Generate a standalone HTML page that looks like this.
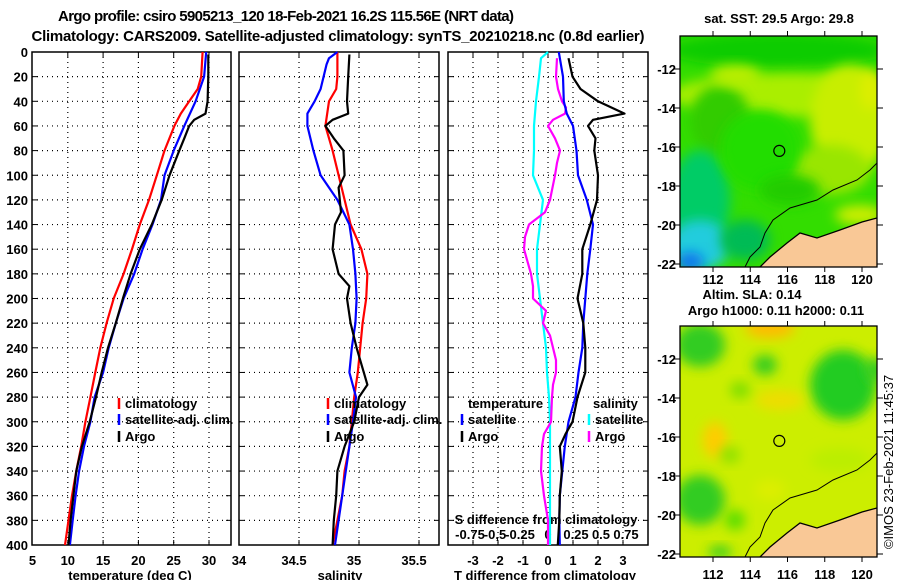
<!DOCTYPE html>
<html><head><meta charset="utf-8"><style>
html,body{margin:0;padding:0;background:#fff;}
svg{display:block;font-family:"Liberation Sans",sans-serif;font-weight:bold;}
</style></head><body>
<svg id="fig" width="900" height="580" viewBox="0 0 900 580" xmlns="http://www.w3.org/2000/svg">
<defs>
<filter id="blur6" x="-50%" y="-50%" width="200%" height="200%"><feGaussianBlur stdDeviation="6"/></filter>
<clipPath id="mapclipTop"><rect x="680" y="36" width="197" height="231"/></clipPath>
<clipPath id="mapclipBot"><rect x="680" y="326" width="197" height="231"/></clipPath>
</defs>
<text x="286" y="21" font-size="15" text-anchor="middle" textLength="456">Argo profile: csiro 5905213_120 18-Feb-2021 16.2S 115.56E (NRT data)</text>
<text x="338" y="41" font-size="15" text-anchor="middle" textLength="613">Climatology: CARS2009. Satellite-adjusted climatology: synTS_20210218.nc (0.8d earlier)</text>
<g id="panels"></g>
<g id="maps"></g>
<text transform="translate(893,462) rotate(-90)" font-size="13" font-weight="normal" text-anchor="middle">©IMOS 23-Feb-2021 11:45:37</text>
</svg>
<script>
// ---- data ----
const depthTicks=[0,20,40,60,80,100,120,140,160,180,200,220,240,260,280,300,320,340,360,380,400];
const tempTicks=[5,10,15,20,25,30];
const salTicks=[34,34.5,35,35.5];
const salTickLabels=["34","34.5","35","35.5"];
const tdiffTicks=[-3,-2,-1,0,1,2,3];
const sdiffTickLabels=["-0.75","-0,5","-0.25","0","0.25","0.5","0.75"];
const sdiffTicks=[-0.75,-0.5,-0.25,0,0.25,0.5,0.75];

const tClimDepth=[0,20,30,40,50,60,80,100,120,140,160,180,200,220,240,260,280,300,320,340,360,380,400];
const tClimVal=[29.1,28.9,28.4,27.2,26.0,25.1,23.7,22.6,21.5,20.2,19.1,17.9,16.5,15.5,14.6,13.9,13.2,12.5,11.9,11.2,10.6,10.1,9.6];
const tSatDepth=[0,20,40,60,80,100,120,140,160,180,200,220,240,260,280,300,320,340,360,380,400];
const tSatVal=[29.6,29.3,28.1,26.5,25.0,23.7,23.2,22.0,20.6,19.4,17.9,16.8,15.8,15.0,13.8,13.2,12.3,11.6,11.1,10.7,10.3];
const tArgoDepth=[2,20,40,50,55,60,70,80,100,120,140,160,180,200,220,240,260,280,300,320,340,360,380,400];
const tArgoVal=[29.9,29.9,29.8,29.5,27.9,27.2,26.5,25.8,24.4,23.3,21.9,20.2,18.9,17.8,16.8,15.7,14.8,14.0,13.1,12.0,11.2,10.8,10.4,10.1];

const sClimDepth=[0,20,30,40,60,80,100,120,140,160,180,200,220,240,260,280,300,320,340,360,380,400];
const sClimVal=[34.82,34.82,34.81,34.75,34.72,34.78,34.83,34.88,34.93,35.02,35.07,35.06,35.03,35.01,34.99,34.96,34.94,34.92,34.88,34.86,34.82,34.78];
const sSatDepth=[0,5,10,30,40,50,60,80,100,120,140,160,180,200,220,240,260,280,300,320,340,360,380,400];
const sSatVal=[34.82,34.75,34.73,34.68,34.63,34.57,34.57,34.62,34.68,34.82,34.92,34.95,34.97,34.98,34.97,34.94,34.92,34.975,34.95,34.92,34.89,34.86,34.83,34.80];
const sArgoDepth=[2,20,40,50,55,60,70,80,100,110,120,130,140,160,180,190,200,220,240,260,270,280,300,320,340,360,380,400];
const sArgoVal=[34.92,34.91,34.90,34.91,34.78,34.72,34.79,34.87,34.88,34.83,34.84,34.85,34.80,34.78,34.83,34.92,34.90,34.93,34.98,35.04,35.07,35.00,34.96,34.88,34.82,34.81,34.79,34.78];

const dtArgoDepth=[5,20,30,40,50,55,60,70,80,100,120,140,160,180,200,220,240,260,280,300,310,320,340,360,380,400];
const dtArgoVal=[0.82,0.98,1.3,2.0,3.06,1.8,1.6,1.9,1.85,2.0,1.96,1.69,1.37,1.37,1.18,1.41,1.49,1.49,1.18,0.98,0.7,0.47,0.55,0.47,0.45,0.39];
const dtSatDepth=[0,20,40,50,60,80,100,120,140,160,180,200,220,240,260,280,300,320,340,360,380,400];
const dtSatVal=[0.43,0.6,0.63,0.75,1.0,1.14,1.2,1.55,1.8,1.69,1.57,1.49,1.41,1.37,1.22,1.1,0.82,0.67,0.57,0.47,0.45,0.47];
const dsSatDepth=[0,5,20,40,60,80,100,120,140,160,180,200,220,240,260,280,300,320,340,360,380,400];
const dsSatVal=[0,-0.07,-0.09,-0.12,-0.14,-0.14,-0.15,-0.05,-0.08,-0.11,-0.11,-0.08,-0.05,-0.02,-0.01,0.01,0.02,0.02,0.02,0.02,0.02,0.02];
const dsArgoDepth=[5,20,30,40,45,50,55,60,70,80,90,100,120,130,140,150,160,180,190,200,210,220,230,240,250,260,270,280,300,310,320,340,360,380,400];
const dsArgoVal=[0.09,0.08,0.10,0.14,0.18,0.17,0.05,0.0,0.07,0.12,0.09,0.07,0.02,-0.03,-0.19,-0.23,-0.24,-0.17,-0.15,-0.15,-0.02,-0.05,0.02,0.05,0.08,0.08,0.05,0.04,0.03,-0.04,-0.06,-0.07,-0.04,0.0,0.0];

// ---- scales ----
const yD=d=>52+d*1.2325;
const xT=t=>32.5+(t-5)*7.06;
const xS=s=>239+(s-34)*120;
const xDT=v=>548+v*25;
const xDS=v=>548+v*100;

const NS="http://www.w3.org/2000/svg";
function mk(tag,attrs,parent){const e=document.createElementNS(NS,tag);for(const k in attrs)e.setAttribute(k,attrs[k]);parent.appendChild(e);return e;}
const P=document.getElementById('panels');

function panel(x0,x1,xticks,xfn,name){
  const g=mk('g',{},P);
  
  
  xticks.forEach(t=>{const x=xfn(t);if(x>x0+1&&x<x1-1){
    const l=mk('line',{x1:x,x2:x,y1:52,y2:545,stroke:'#000','stroke-width':1.2,'stroke-dasharray':'1 4'},g);
    
    
    mk('line',{x1:x,x2:x,y1:545,y2:540,stroke:'#000'},g);mk('line',{x1:x,x2:x,y1:52,y2:57,stroke:'#000'},g);}});
  depthTicks.forEach(d=>{const y=yD(d);if(d>0&&d<400){
    const l=mk('line',{x1:x0,x2:x1,y1:y,y2:y,stroke:'#000','stroke-width':1.2,'stroke-dasharray':'1 4'},g);
    
    }
    mk('line',{x1:x0,x2:x0+5,y1:y,y2:y,stroke:'#000'},g);mk('line',{x1:x1,x2:x1-5,y1:y,y2:y,stroke:'#000'},g);});
  const r=mk('rect',{x:x0,y:52,width:x1-x0,height:493,fill:'none',stroke:'#000','stroke-width':1.5},g);
  
  
  return g;
}
function series(g,depths,vals,xfn,color,name){
  const pts=depths.map((d,i)=>xfn(vals[i]).toFixed(1)+','+yD(d).toFixed(1)).join(' ');
  const p=mk('polyline',{points:pts,fill:'none',stroke:color,'stroke-width':2.2,'stroke-linejoin':'round'},g);
  
  
}
function txt(g,x,y,s,size,anchor,name,color){
  const t=mk('text',{x:x,y:y,'font-size':size,'text-anchor':anchor||'start',fill:color||'#000'},g);
  t.textContent=s;
  
  
  return t;
}
function legendEntry(g,x,y,color,label){
  const l=mk('line',{x1:x,x2:x,y1:y-10,y2:y+1,stroke:color,'stroke-width':2.5},g);
  
  
  txt(g,x+6,y,label,13,'start','legend-entry');
}

// Panel 1 temperature
const g1=panel(32,231,tempTicks,xT,'temperature-panel');
depthTicks.forEach(d=>txt(g1,28,yD(d)+5,String(d),13,'end','y-tick-label'));
tempTicks.forEach(t=>txt(g1,xT(t),565,String(t),13,'middle','x-tick-label'));
txt(g1,239,565,'34',13,'middle','x-tick-label');
txt(g1,130,580,'temperature (deg C)',13,'middle','x-axis-title');
series(g1,tClimDepth,tClimVal,xT,'#f00','temp-climatology-line');
series(g1,tSatDepth,tSatVal,xT,'#00f','temp-satellite-line');
series(g1,tArgoDepth,tArgoVal,xT,'#000','temp-argo-line');
legendEntry(g1,119,408,'#f00','climatology');
legendEntry(g1,119,424,'#00f','satellite-adj. clim.');
legendEntry(g1,119,441,'#000','Argo');

// Panel 2 salinity
const g2=panel(239,439,salTicks,xS,'salinity-panel');
salTicks.forEach((t,i)=>{if(i>0)txt(g2,xS(t)-5,565,salTickLabels[i],13,'middle','x-tick-label');});
txt(g2,340,580,'salinity',13,'middle','x-axis-title');
series(g2,sClimDepth,sClimVal,xS,'#f00','sal-climatology-line');
series(g2,sSatDepth,sSatVal,xS,'#00f','sal-satellite-line');
series(g2,sArgoDepth,sArgoVal,xS,'#000','sal-argo-line');
legendEntry(g2,328,408,'#f00','climatology');
legendEntry(g2,328,424,'#00f','satellite-adj. clim.');
legendEntry(g2,328,441,'#000','Argo');

// Panel 3 differences
const g3=panel(448,648,tdiffTicks,xDT,'difference-panel');
tdiffTicks.forEach(t=>txt(g3,xDT(t),565,String(t),13,'middle','x-tick-label'));
txt(g3,545,580,'T difference from climatology',13,'middle','x-axis-title');
txt(g3,546,524,'S difference from climatology',13,'middle','s-axis-title');
sdiffTicks.forEach((t,i)=>txt(g3,xDS(t)+(i<3?-3:(i>3?3:0)),539,sdiffTickLabels[i],13,'middle','s-tick-label'));
series(g3,dsSatDepth,dsSatVal,xDS,'#0ff','sdiff-satellite-line');
series(g3,dsArgoDepth,dsArgoVal,xDS,'#f0f','sdiff-argo-line');
series(g3,dtSatDepth,dtSatVal,xDT,'#00f','tdiff-satellite-line');
series(g3,dtArgoDepth,dtArgoVal,xDT,'#000','tdiff-argo-line');
txt(g3,468,408,'temperature',13,'start','legend-title-temperature');
txt(g3,593,408,'salinity',13,'start','legend-title-salinity');
legendEntry(g3,462,424,'#00f','satellite');
legendEntry(g3,462,441,'#000','Argo');
legendEntry(g3,589,424,'#0ff','satellite');
legendEntry(g3,589,441,'#f0f','Argo');

// ---- maps ----
const mapLats=[-12,-14,-16,-18,-20,-22];
const mapLons=[112,114,116,118,120];
const argoLon=115.56, argoLat=-16.2;
const xL=lon=>713+(lon-112)*18.625;
const yLat=(lat,off)=>69+off+(-12-lat)*19.5;
const M=document.getElementById('maps');
const landPts=[[760,267],[770,257],[787,243],[800,233],[817,238],[840,230],[862,222],[877,218],[877,267]];
const shelfPts=[[877,163],[870,170],[857,180],[833,190],[817,200],[790,208],[773,220],[765,233],[760,247],[750,257],[745,267]];
const coastPts=[[760,267],[770,257],[787,243],[800,233],[817,238],[840,230],[862,222],[877,218]];

function drawMap(off,blobs,base,name,clip){
  const g=mk('g',{},M);
  
  
  const c=mk('g',{'clip-path':'url(#'+clip+')'},g);
  mk('rect',{x:680,y:36+off,width:197,height:231,fill:base},c);
  blobs.forEach(b=>{mk('ellipse',{cx:b[0],cy:b[1]+off,rx:b[2],ry:b[3],fill:b[4],filter:'url(#blur6)'},c);});
  const land=mk('polygon',{points:landPts.map(p=>p[0]+','+(p[1]+off)).join(' '),fill:'#f9c896'},c);
  
  
  mk('polyline',{points:coastPts.map(p=>p[0]+','+(p[1]+off)).join(' '),fill:'none',stroke:'#000','stroke-width':1.3},c);
  mk('polyline',{points:shelfPts.map(p=>p[0]+','+(p[1]+off)).join(' '),fill:'none',stroke:'#000','stroke-width':1},c);
  const fr=mk('rect',{x:680,y:36+off,width:197,height:231,fill:'none',stroke:'#000','stroke-width':1.3},g);
  
  
  mapLats.forEach(l=>{const y=yLat(l,off);
    mk('line',{x1:673,x2:680,y1:y,y2:y,stroke:'#000'},g);mk('line',{x1:877,x2:883,y1:y,y2:y,stroke:'#000'},g);
    txt(g,676,y+5,String(l),13,'end','lat-tick-label');});
  mapLons.forEach(l=>{const x=xL(l);mk('line',{x1:x,x2:x,y1:36+off,y2:31+off,stroke:'#000'},g);mk('line',{x1:x,x2:x,y1:267+off,y2:272+off,stroke:'#000'},g);
    txt(g,x,284+off+(off?5:0),String(l),13,'middle','lon-tick-label');});
  const ci=mk('circle',{cx:xL(argoLon),cy:yLat(argoLat,off),r:5.5,fill:'none',stroke:'#000','stroke-width':1.2},g);
  
  
}
const sstBlobs=[
 [778,50,110,18,'#11cc00'],[790,95,120,22,'#aaee00'],[850,120,40,55,'#c8ee00'],[830,170,40,25,'#99e600'],
 [720,120,30,35,'#33cc00'],[700,200,30,50,'#00cc66'],[700,245,30,25,'#22ccdd'],[690,262,14,10,'#1177ee'],
 [745,240,25,20,'#00bb55'],[860,215,25,10,'#ccee00'],[760,150,40,40,'#22dd00'],[735,75,25,10,'#bbee00'],
 [870,90,10,20,'#ddee00'],[790,190,30,15,'#22cc00']];
const slaBlobs=[
 [770,38,25,10,'#ffbb00'],[700,55,25,22,'#33cc22'],[765,75,12,10,'#33cc22'],[843,95,33,35,'#22cc22'],
 [875,80,10,12,'#33cc22'],[715,150,12,18,'#ffcc00'],[700,210,25,25,'#33cc22'],[735,230,10,10,'#55dd00'],
 [720,262,12,6,'#33cc22'],[780,110,25,10,'#eedd00'],[740,100,10,8,'#77dd00'],[840,170,30,12,'#bbee00'],
 [730,165,10,8,'#88e000'],[770,200,15,10,'#ddee00']];
drawMap(0,sstBlobs,'#33dd00','sst-map','mapclipTop');
drawMap(290,slaBlobs,'#ccee00','sla-map','mapclipBot');
txt(M,779,23,'sat. SST: 29.5 Argo: 29.8',13,'middle','sst-map-title');
txt(M,752,299,'Altim. SLA: 0.14',13,'middle','sla-map-title');
txt(M,776,315,'Argo h1000: 0.11 h2000: 0.11',13,'middle','steric-height-label');
</script>
</body></html>
